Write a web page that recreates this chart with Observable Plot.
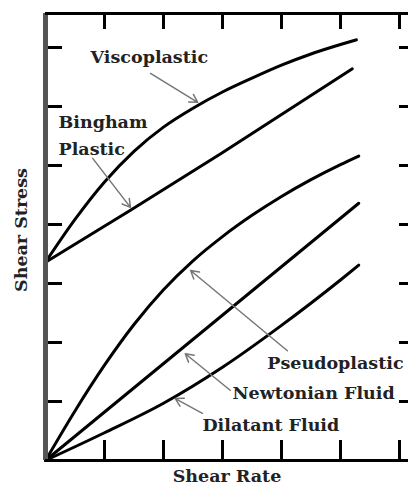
<!DOCTYPE html>
<html><head><meta charset="utf-8">
<script src="https://cdn.jsdelivr.net/npm/d3@7"></script>
<script src="https://cdn.jsdelivr.net/npm/@observablehq/plot@0.6"></script>
<style>
html,body{margin:0;padding:0;background:#fff;overflow:hidden}
</style>
</head><body><div id="chart"></div>
<script>
// Curves: [shear rate, shear stress] (arbitrary units)
const viscoplastic = [[0,3.36],[0.5,4.085],[1,4.72],[1.5,5.24],[2,5.65],[2.5,5.97],[3,6.245],[3.5,6.48],[4,6.70],[4.5,6.89],[5,7.05],[5.27,7.13]];
const binghamPlastic = [[0,3.36],[1.44,4.24],[2.97,5.20],[5.20,6.64]];
const pseudoplastic = [[0,0],[0.5,0.84],[1,1.615],[1.5,2.305],[2,2.895],[2.5,3.385],[3,3.795],[3.5,4.155],[4,4.475],[4.5,4.76],[5,5.015],[5.31,5.16]];
const newtonianFluid = [[0,0],[5.31,4.36]];
const dilatantFluid = [[0,0],[1,0.47],[2,0.97],[3,1.58],[4,2.29],[5,3.06],[5.31,3.31]];

// Axes
const xDomain = [0, 6.153];
const yDomain = [0, 7.576];
const xTicks = [1,2,3,4,5,6];
const yTicks = [1,2,3,4,5,6,7];
const xTitle = "Shear Rate";
const yTitle = "Shear Stress";

// Annotations
const labelText = ["Viscoplastic","Bingham\nPlastic","Pseudoplastic","Newtonian Fluid","Dilatant Fluid"];
const labelX = [1.76, 0.22, 3.76, 3.17, 2.66];
const labelY = [6.83, 5.55, 1.70, 1.19, 0.64];
const labelAnchor = ["middle","start","start","start","start"];
const arrowFrom = [[1.78,6.56],[0.80,5.12],[4.10,1.86],[3.13,1.19],[2.66,0.80]];
const arrowTo = [[2.58,6.07],[1.44,4.29],[2.46,3.22],[2.37,1.81],[2.20,1.05]];

const series = [viscoplastic, binghamPlastic, pseudoplastic, newtonianFluid, dilatantFluid];
const labels = labelText.map((t,i)=>({t, x:labelX[i], y:labelY[i], a:labelAnchor[i]}));
const arrows = arrowFrom.map((f,i)=>({x1:f[0], y1:f[1], x2:arrowTo[i][0], y2:arrowTo[i][1]}));

const serif = "DejaVu Serif";

const chart = Plot.plot({
  width: 408, height: 491,
  marginLeft: 45, marginTop: 13, marginRight: 0, marginBottom: 31,
  x: {domain: xDomain},
  y: {domain: yDomain},
  style: {fontFamily: serif, background: "#fff"},
  marks: [
    Plot.axisX(xTicks, {anchor: "bottom", tickSize: -20, strokeWidth: 3, tickFormat: () => "", label: null}),
    Plot.axisX(xTicks, {anchor: "top", tickSize: -15, strokeWidth: 3, tickFormat: () => "", label: null}),
    Plot.axisY(yTicks, {anchor: "left", tickSize: -17, strokeWidth: 3, tickFormat: () => "", label: null}),
    Plot.axisY(yTicks, {anchor: "right", tickSize: -10, strokeWidth: 3, tickFormat: () => "", label: null}),
    ...series.map(s => Plot.line(s, {x: d => d[0], y: d => d[1], curve: "monotone-x", stroke: "#000", strokeWidth: 3})),
    Plot.arrow(arrows, {x1: "x1", y1: "y1", x2: "x2", y2: "y2", stroke: "#777", strokeWidth: 1.5, headLength: 9}),
    Plot.text(labels, {x: "x", y: "y", text: "t", textAnchor: "start", filter: d => d.a === "start", lineAnchor: "middle", lineHeight: 1.55,
      fontSize: 17.5, fontWeight: "bold", fill: "#222", fontFamily: serif}),
    Plot.text(labels, {x: "x", y: "y", text: "t", textAnchor: "middle", filter: d => d.a === "middle", lineAnchor: "middle",
      fontSize: 17.5, fontWeight: "bold", fill: "#222", fontFamily: serif}),
    Plot.ruleX([xDomain[0]], {stroke: "#555", strokeWidth: 5}),
    Plot.ruleY([yDomain[0]], {stroke: "#000", strokeWidth: 3}),
    Plot.ruleY([yDomain[1]], {stroke: "#000", strokeWidth: 3}),
    Plot.text([xTitle], {frameAnchor: "bottom", dy: 21, fontSize: 17.5, fontWeight: "bold", fill: "#222", fontFamily: serif}),
    Plot.text([yTitle], {frameAnchor: "left", textAnchor: "middle", dx: -24, dy: -7, rotate: -90, fontSize: 17.5, fontWeight: "bold", fill: "#222", fontFamily: serif})
  ]
});
document.getElementById("chart").appendChild(chart);
</script>
</body></html>
